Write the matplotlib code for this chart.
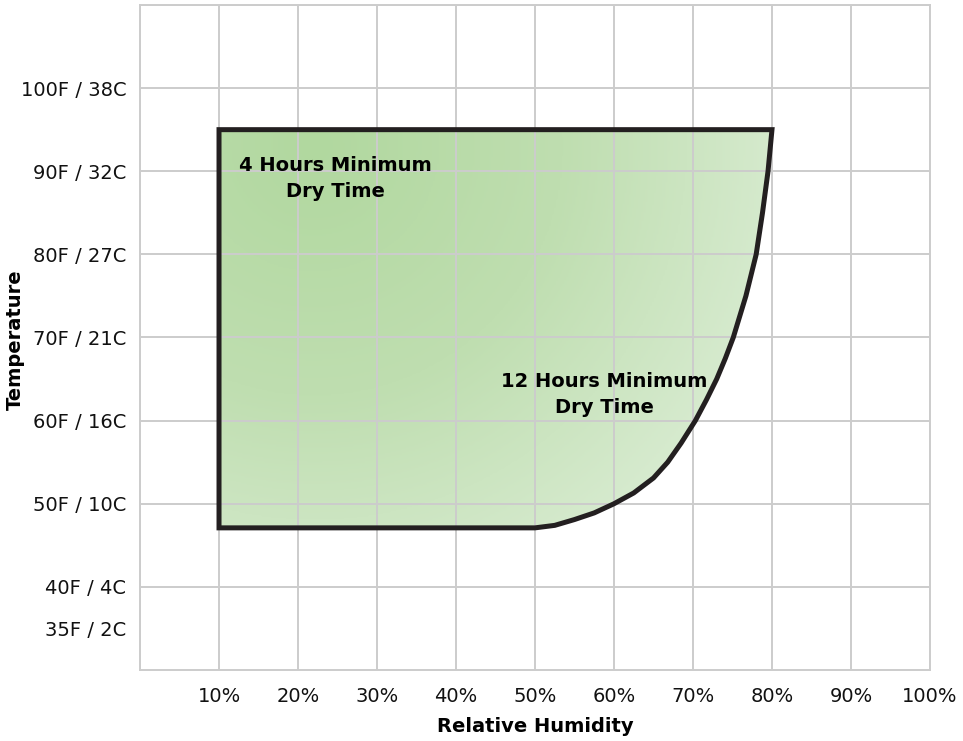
import numpy as np
import matplotlib.pyplot as plt
from matplotlib.patches import Polygon
from matplotlib.colors import LinearSegmentedColormap

# boundary of the drying zone (relative humidity %, temperature F)
edge_rh = [10, 10, 80, 79.5, 78.8, 78.0, 76.7, 75.1, 74.1, 73.0, 71.7, 70.3,
           68.5, 66.8, 65, 62.5, 60, 57.5, 55, 52.5, 50]
edge_temp = [47.1, 95, 95, 90, 85, 80, 75, 70, 67.5, 65, 62.5, 60,
             57.3, 55, 53.1, 51.3, 50, 48.9, 48.1, 47.4, 47.1]

rh_ticks = [10, 20, 30, 40, 50, 60, 70, 80, 90, 100]
rh_labels = ["10%", "20%", "30%", "40%", "50%", "60%", "70%", "80%", "90%", "100%"]
temp_ticks = [35, 40, 50, 60, 70, 80, 90, 100]
temp_labels = ["35F / 2C", "40F / 4C", "50F / 10C", "60F / 16C",
               "70F / 21C", "80F / 27C", "90F / 32C", "100F / 38C"]

plt.rcParams['font.family'] = ['DejaVu Sans']

fig = plt.figure(figsize=(9.63, 7.41), dpi=100)
ax = fig.add_axes([0.1454, 0.0958, 0.8203, 0.8975])
ax.set_xlim(0, 100)
ax.set_ylim(30, 110)

# gradient fill clipped to the zone
greens = LinearSegmentedColormap.from_list("g", ["#b1d89f", "#bfdeb0", "#d9ecd2"])
gx, gy = np.meshgrid(np.linspace(10, 80, 300), np.linspace(47, 95, 300))
dist = np.hypot((gx - 22) * 7.92, (gy - 93) * 8.33) / 500
img = ax.imshow(np.clip(dist, 0, 1), extent=[10, 80, 47, 95], origin="lower",
                cmap=greens, vmin=0, vmax=1, aspect="auto", zorder=1)
zone = Polygon(np.column_stack([edge_rh, edge_temp]), closed=True,
               facecolor="none", edgecolor="#231f20", linewidth=3.6,
               joinstyle="miter", zorder=3)
ax.add_patch(zone)
img.set_clip_path(zone)

ax.set_xticks(rh_ticks)
ax.set_xticklabels(rh_labels)
ax.set_yticks(temp_ticks)
ax.set_yticklabels(temp_labels)
ax.tick_params(length=0, labelsize=14, colors="#111111")
ax.tick_params(axis="x", pad=12)
ax.tick_params(axis="y", pad=10)

ax.set_xticks([0], minor=True)
ax.set_yticks([110], minor=True)
ax.grid(True, which="both", color="#cccccc", linewidth=1.4, zorder=2)
ax.set_axisbelow(False)
ax.yaxis.get_gridlines()[0].set_visible(False)
for s in ax.spines.values():
    s.set_color("#cccccc")
    s.set_linewidth(1.4)
ax.tick_params(which="minor", length=0)

ax.text(24.7, 89.1, "4 Hours Minimum\nDry Time", ha="center", va="center",
        fontsize=14, fontweight="bold", linespacing=1.45, zorder=4)
ax.text(58.8, 63.1, "12 Hours Minimum\nDry Time", ha="center", va="center",
        fontsize=14, fontweight="bold", linespacing=1.45, zorder=4)

fig.text(0.5556, 1 - 727 / 741, "Relative Humidity", ha="center", va="center",
         fontsize=14, fontweight="bold")
fig.text(15 / 963, 1 - 340 / 741, "Temperature", ha="center", va="center",
         rotation=90, fontsize=14, fontweight="bold")

plt.savefig("out.png", dpi=100)
